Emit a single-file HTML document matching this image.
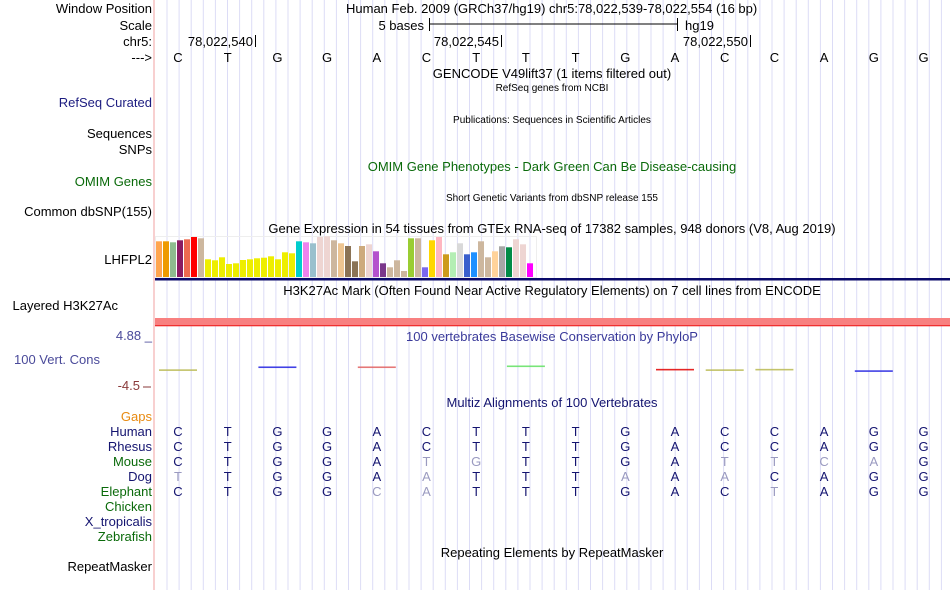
<!DOCTYPE html>
<html><head><meta charset="utf-8">
<style>
html,body{margin:0;padding:0;background:#fff;}
svg{display:block;font-family:"Liberation Sans",sans-serif;}
</style></head>
<body>
<svg id="c" width="950" height="590" viewBox="0 0 950 590" xmlns="http://www.w3.org/2000/svg">
<g id="grid"></g>
<line x1="154" y1="0" x2="154" y2="590" stroke="#f4b0b0" stroke-width="1.2"/>
<g font-size="13" text-anchor="end">
<text x="152" y="13" fill="#000">Window Position</text>
<text x="152" y="30" fill="#000">Scale</text>
<text x="152" y="46" fill="#000">chr5:</text>
<text x="152" y="62" fill="#000">---&gt;</text>
<text x="152" y="107" fill="#1c1c80">RefSeq Curated</text>
<text x="152" y="138" fill="#000">Sequences</text>
<text x="152" y="154" fill="#000">SNPs</text>
<text x="152" y="186" fill="#0a6a0a">OMIM Genes</text>
<text x="152" y="216" fill="#000">Common dbSNP(155)</text>
<text x="152" y="264" fill="#000">LHFPL2</text>
<text x="118" y="310" fill="#000">Layered H3K27Ac</text>
<text x="152" y="340" fill="#4a4a9a">4.88 _</text>
<text x="100" y="364" fill="#4a4a9a">100 Vert. Cons</text>
<text x="140" y="390" fill="#8a3a3a">-4.5</text>
<line x1="143" y1="387" x2="151" y2="387" stroke="#8a3a3a"/>
<text x="152" y="421" fill="#e88a10">Gaps</text>
</g>
<g id="species" font-size="13" text-anchor="end"></g>
<text x="152" y="571" font-size="13" text-anchor="end" fill="#000">RepeatMasker</text>

<g font-size="13" fill="#000">
<text x="346" y="13">Human Feb. 2009 (GRCh37/hg19)   chr5:78,022,539-78,022,554 (16 bp)</text>
<text x="424" y="30" text-anchor="end">5 bases</text>
<line x1="429" y1="24" x2="677" y2="24" stroke="#000"/>
<line x1="429.5" y1="18" x2="429.5" y2="31" stroke="#000"/>
<line x1="677.5" y1="18" x2="677.5" y2="31" stroke="#000"/>
<text x="685" y="30">hg19</text>
<text x="253" y="46" text-anchor="end">78,022,540</text>
<line x1="255.5" y1="35" x2="255.5" y2="47" stroke="#000"/>
<text x="499" y="46" text-anchor="end">78,022,545</text>
<line x1="501.5" y1="35" x2="501.5" y2="47" stroke="#000"/>
<text x="748" y="46" text-anchor="end">78,022,550</text>
<line x1="750.5" y1="35" x2="750.5" y2="47" stroke="#000"/>
</g>
<g id="refbases" font-size="13" text-anchor="middle"></g>

<g text-anchor="middle">
<text x="552" y="78" font-size="13" fill="#000">GENCODE V49lift37 (1 items filtered out)</text>
<text x="552" y="91" font-size="10" fill="#000">RefSeq genes from NCBI</text>
<text x="552" y="123" font-size="10" fill="#000">Publications: Sequences in Scientific Articles</text>
<text x="552" y="171" font-size="13" fill="#0a6a0a">OMIM Gene Phenotypes - Dark Green Can Be Disease-causing</text>
<text x="552" y="201" font-size="10" fill="#000">Short Genetic Variants from dbSNP release 155</text>
<text x="552" y="233" font-size="13" fill="#000">Gene Expression in 54 tissues from GTEx RNA-seq of 17382 samples, 948 donors (V8, Aug 2019)</text>
<text x="552" y="295" font-size="13" fill="#000">H3K27Ac Mark (Often Found Near Active Regulatory Elements) on 7 cell lines from ENCODE</text>
<text x="552" y="341" font-size="13" fill="#3a3a9a">100 vertebrates Basewise Conservation by PhyloP</text>
<text x="552" y="407" font-size="13" fill="#141470">Multiz Alignments of 100 Vertebrates</text>
<text x="552" y="557" font-size="13" fill="#000">Repeating Elements by RepeatMasker</text>
</g>

<rect x="155.5" y="236.5" width="381" height="41" fill="none" stroke="#eeeeee"/>
<g id="gtex"></g>
<rect x="155" y="278" width="795" height="2.5" fill="#0a0a6a"/>
<rect x="155" y="318" width="795" height="7" fill="#f88080"/>
<rect x="155" y="325" width="795" height="1.3" fill="#f03030"/>
<g id="cons"></g>
<g id="multiz" font-size="13" text-anchor="middle"></g>
</svg>
<script>
const refSeq = "CTGGACTTTGACCAGG";
const gtexValues = [35.7,35.7,34.7,36.7,37.7,40,38.7,17.7,16.7,19.7,13,13.7,17,17.7,18.7,19.3,20.7,17.7,24.7,23.7,35.7,34.7,33.7,40,40.7,36.7,33.7,31,15.7,31,32.7,25.7,13.7,9.7,16.7,6,38.7,38.7,9.7,36.7,40,22.7,24.7,33.7,22.7,24.7,35.7,19.7,25.7,30.7,29.7,37.7,32.7,13.7];
const gtexColors = ["#ffa54f","#ee9a00","#8fbc8f","#8b1c62","#ee6a50","#ff0000","#cdb79e","#eeee00","#eeee00","#eeee00","#eeee00","#eeee00","#eeee00","#eeee00","#eeee00","#eeee00","#eeee00","#eeee00","#eeee00","#eeee00","#00cdcd","#ee82ee","#9ac0cd","#eed5d2","#eed5d2","#cdb79e","#eec591","#8b7355","#8b7355","#cdaa7d","#eed5d2","#b452cd","#7a378b","#cdb79e","#cdb79e","#cdb79e","#9acd32","#cdb79e","#7b68ee","#ffd700","#ffb6c1","#cd9b1d","#b4eeb4","#d9d9d9","#3a5fcd","#1e90ff","#cdb79e","#cdb79e","#ffd39b","#a6a6a6","#008b45","#eed5d2","#eed5d2","#ff00ff"];
const consPos = [0,2,4,7,10,11,12,14];
const consValues = [-1.4,-0.8,-0.8,-0.6,-1.3,-1.4,-1.3,-1.6];
const consColors = ["#b8b850","#2020e0","#e06060","#60e060","#e00000","#b8b850","#b8b850","#2020e0"];
const species = ["Human","Rhesus","Mouse","Dog","Elephant","Chicken","X_tropicalis","Zebrafish"];
const speciesColors = ["#141470","#141470","#0a6a0a","#141470","#0a6a0a","#0a6a0a","#141470","#0a6a0a"];
const alignments = ["CTGGACTTTGACCAGG","CTGGACTTTGACCAGG","CTGGATGTTGATTCAG","TTGGAATTTAAACAGG","CTGGCATTTGACTAGG","","",""];
const fadedMask = ["0000000000000000","0000000000000000","0000011000011110","1000010001010000","0000110000001000","","",""];

const NS="http://www.w3.org/2000/svg";
function mk(tag, attrs, parent){const e=document.createElementNS(NS,tag);for(const k in attrs)e.setAttribute(k,attrs[k]);parent.appendChild(e);return e;}
const xBase = i => 178 + i*49.7;
const gtexY = v => 277 - v;
const gtexX = i => 156 + i*7;
const consY = v => 340 + (4.88 - v)*(45/9.38);

const grid=document.getElementById('grid');
for(let x=167;x<950;x+=12.1){
  const l=mk('line',{x1:x,y1:0,x2:x,y2:590,stroke:'#dcdcf6','stroke-width':1},grid);
  
  
}
const rb=document.getElementById('refbases');
for(let i=0;i<refSeq.length;i++){
  const t=mk('text',{x:xBase(i),y:62,fill:'#000'},rb);t.textContent=refSeq[i];
  
  
}
const g=document.getElementById('gtex');
for(let i=0;i<gtexValues.length;i++){
  const v=gtexValues[i];
  const r=mk('rect',{x:gtexX(i),y:gtexY(v),width:6,height:v,fill:gtexColors[i]},g);
  
  
}
const c=document.getElementById('cons');
for(let k=0;k<consPos.length;k++){
  const x=xBase(consPos[k]);const y=consY(consValues[k]);
  const r=mk('rect',{x:x-19,y:y-0.8,width:38,height:1.6,fill:consColors[k],opacity:0.85},c);
  
  
}
const sp=document.getElementById('species');
const mz=document.getElementById('multiz');
for(let s=0;s<species.length;s++){
  const y=436+s*15;
  const t=mk('text',{x:152,y:y,fill:speciesColors[s]},sp);t.textContent=species[s];
  
  
  const seq=alignments[s];
  for(let i=0;i<seq.length;i++){
    const f=fadedMask[s][i]==='1';
    const b=mk('text',{x:xBase(i),y:y,fill:f?'#9a9ac0':'#141470'},mz);b.textContent=seq[i];
    
    
  }
}
</script>
</body></html>
